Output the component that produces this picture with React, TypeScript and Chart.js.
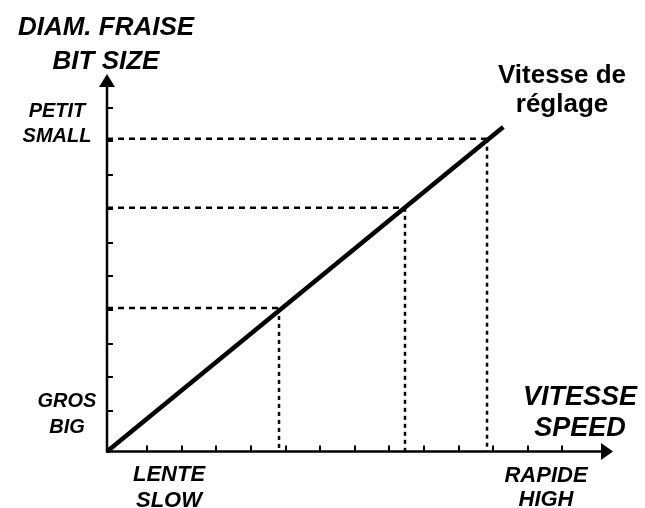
import React, { useEffect, useRef } from "react";
import { Chart, registerables } from "chart.js";

Chart.register(...registerables);

// ---- data ----
const speedMax = 14.62;
const sizeMax = 11.2;
const speedTicks = [1.16, 2.16, 3.16, 4.16, 5.16, 6.16, 7.16, 8.16, 9.16, 10.16, 11.16, 12.16, 13.16];
const sizeTicks = [1.2, 2.2, 3.2, 4.2, 5.2, 6.2, 7.2, 8.2, 9.2, 10.2];
const settingSpeed = [0, 11.45];
const settingSize = [0, 9.63];
const refSpeed = [4.97, 8.61, 10.98];
const refSize = [4.26, 7.23, 9.28];
const yTitle = ["DIAM. FRAISE", "BIT SIZE"];
const yTop = ["PETIT", "SMALL"];
const yBottom = ["GROS", "BIG"];
const xTitle = ["VITESSE", "SPEED"];
const xLeft = ["LENTE", "SLOW"];
const xRight = ["RAPIDE", "HIGH"];
const lineLabel = ["Vitesse de", "réglage"];

const ITALIC = (s: number) => `italic bold ${s}px "Liberation Sans", Arial, sans-serif`;
const BOLD = (s: number) => `bold ${s}px "Liberation Sans", Arial, sans-serif`;

const axesPlugin = {
  id: "axesPlugin",
  beforeDatasetsDraw(chart: any) {
    const { ctx } = chart;
    const xs = chart.scales.x;
    const ys = chart.scales.y;
    const x0 = xs.getPixelForValue(0);
    const y0 = ys.getPixelForValue(0);
    const xEnd = xs.getPixelForValue(speedMax);
    const yEnd = ys.getPixelForValue(sizeMax);
    ctx.save();
    ctx.strokeStyle = "#000";
    ctx.fillStyle = "#000";
    ctx.lineWidth = 2.5;
    ctx.lineCap = "butt";
    // y axis
    ctx.beginPath();
    ctx.moveTo(x0, y0 + 1);
    ctx.lineTo(x0, yEnd + 10);
    ctx.stroke();
    // x axis
    ctx.beginPath();
    ctx.moveTo(x0 - 1, y0);
    ctx.lineTo(xEnd - 10, y0);
    ctx.stroke();
    // arrow heads
    ctx.beginPath();
    ctx.moveTo(x0, yEnd);
    ctx.lineTo(x0 - 8, yEnd + 13);
    ctx.lineTo(x0 + 8, yEnd + 13);
    ctx.closePath();
    ctx.fill();
    ctx.beginPath();
    ctx.moveTo(xEnd, y0);
    ctx.lineTo(xEnd - 12, y0 - 8.5);
    ctx.lineTo(xEnd - 12, y0 + 8.5);
    ctx.closePath();
    ctx.fill();
    // ticks
    ctx.lineWidth = 2;
    for (const v of speedTicks) {
      const p = Math.round(xs.getPixelForValue(v));
      ctx.beginPath();
      ctx.moveTo(p, y0);
      ctx.lineTo(p, y0 - 6);
      ctx.stroke();
    }
    for (const v of sizeTicks) {
      const p = Math.round(ys.getPixelForValue(v));
      ctx.beginPath();
      ctx.moveTo(x0, p);
      ctx.lineTo(x0 + 6, p);
      ctx.stroke();
    }
    ctx.restore();
  },
  afterDraw(chart: any) {
    const { ctx } = chart;
    ctx.save();
    ctx.fillStyle = "#000";
    ctx.textAlign = "center";
    ctx.textBaseline = "alphabetic";
    const put = (lines: string[], font: string, cx: number, b1: number, b2: number) => {
      ctx.font = font;
      ctx.fillText(lines[0], cx, b1);
      ctx.fillText(lines[1], cx, b2);
    };
    put(yTitle, ITALIC(26), 106, 35, 69);
    put(yTop, ITALIC(20), 57, 117, 142);
    put(yBottom, ITALIC(20), 67, 407, 433);
    put(xTitle, ITALIC(27), 580, 405, 436);
    put(xLeft, ITALIC(22), 169, 481, 507);
    put(xRight, ITALIC(22), 546, 482, 506);
    put(lineLabel, BOLD(26), 562, 83, 112);
    ctx.restore();
  },
};

export default function App() {
  const ref = useRef<HTMLCanvasElement | null>(null);
  useEffect(() => {
    if (!ref.current) return;
    const datasets: any[] = [];
    refSpeed.forEach((sx, i) => {
      datasets.push({
        data: [
          { x: 0, y: refSize[i] },
          { x: sx, y: refSize[i] },
        ],
        borderColor: "#000",
        borderWidth: 2.5,
        borderDash: [6, 5],
        pointRadius: 0,
        clip: false,
      });
      datasets.push({
        data: [
          { x: sx, y: refSize[i] },
          { x: sx, y: 0 },
        ],
        borderColor: "#000",
        borderWidth: 2.5,
        borderDash: [4, 4],
        pointRadius: 0,
        clip: false,
      });
    });
    datasets.push({
      data: settingSpeed.map((x, i) => ({ x, y: settingSize[i] })),
      borderColor: "#000",
      borderWidth: 4.5,
      pointRadius: 0,
      borderCapStyle: "butt",
      clip: false,
    });
    const chart = new Chart(ref.current, {
      type: "line",
      data: { datasets },
      plugins: [axesPlugin],
      options: {
        animation: false,
        responsive: false,
        devicePixelRatio: 1,
        layout: { padding: { left: 107, right: 32, top: 74, bottom: 56.5 } },
        plugins: { legend: { display: false }, tooltip: { enabled: false } },
        scales: {
          x: { type: "linear", min: 0, max: speedMax, display: false },
          y: { type: "linear", min: 0, max: sizeMax, display: false },
        },
      },
    } as any);
    return () => chart.destroy();
  }, []);
  return (
    <div style={{ position: "fixed", left: 0, top: 0, width: 645, height: 508, background: "#fff" }}>
      <canvas ref={ref} width={645} height={508} style={{ width: 645, height: 508, display: "block" }} />
    </div>
  );
}
